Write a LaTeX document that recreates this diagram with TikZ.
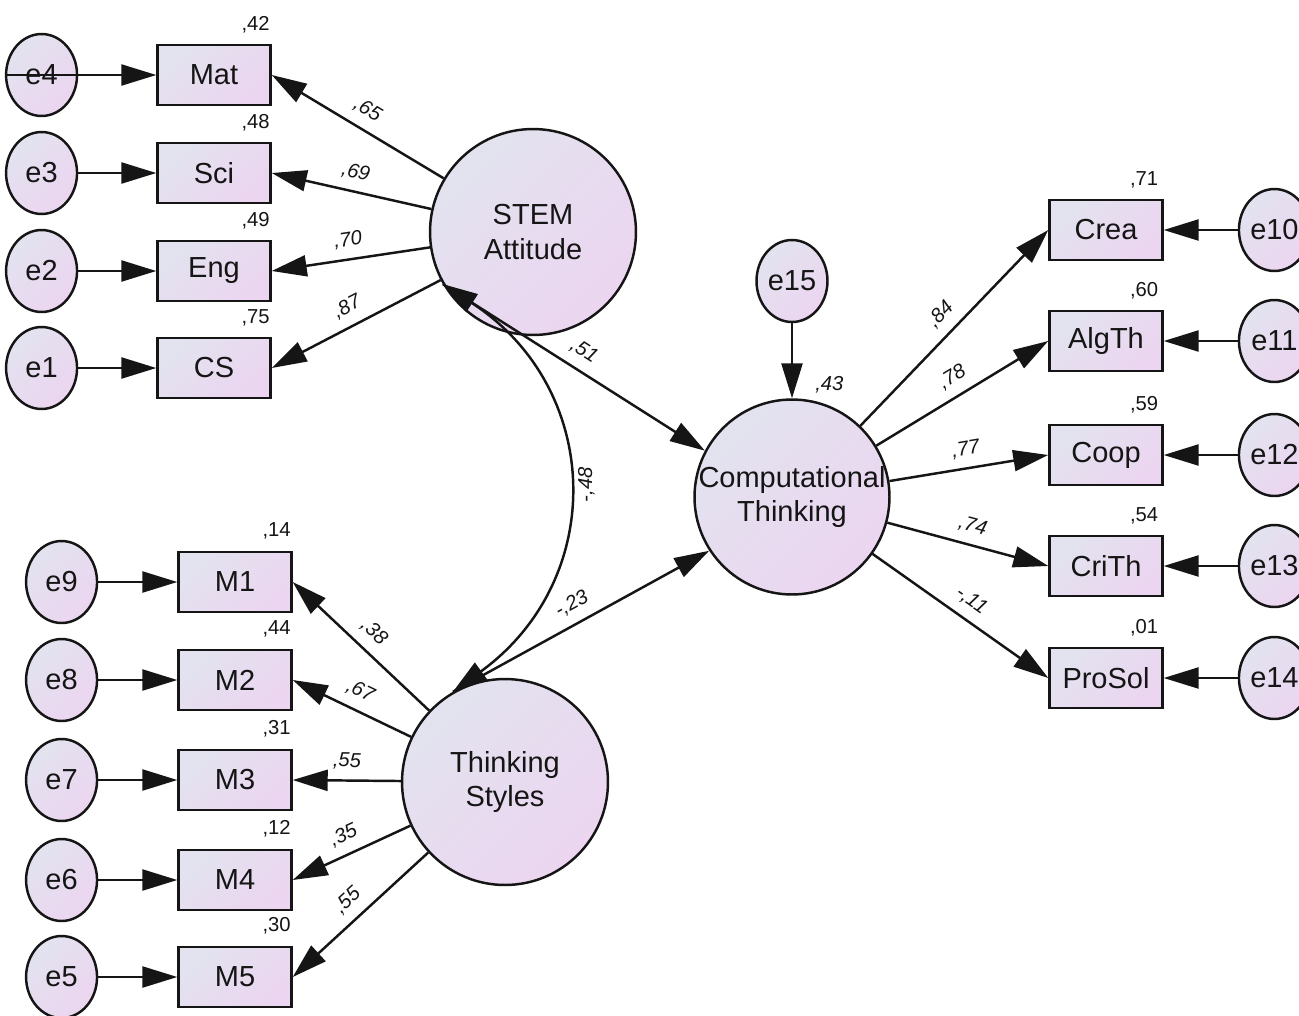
\documentclass[tikz,border=0pt]{standalone}
\usepackage{fontspec}
\setmainfont{Liberation Sans}
\usepackage{tikz}
\usetikzlibrary{arrows.meta,positioning,shapes.geometric}
\usepackage{xcolor}
\definecolor{fillgray}{HTML}{E2E3EF}
\definecolor{fillpink}{HTML}{ECD5F0}
\definecolor{inkgray}{HTML}{151515}

\begin{document}
\begin{tikzpicture}[
    x=0.02cm, y=-0.02cm,
    font=\fontsize{16.5}{19.5}\selectfont,
    lilac/.style={top color=fillgray, bottom color=fillpink, shading angle=45},
    obs/.style={draw=inkgray, line width=1.4pt, lilac, minimum width=2.26cm,
                minimum height=1.21cm, inner sep=0pt, text=inkgray},
    lat/.style={circle, draw=inkgray, line width=1.4pt, lilac, minimum size=#1,
                inner sep=-8pt, align=center, text=inkgray},
    err/.style={ellipse, draw=inkgray, line width=1.4pt, lilac, minimum width=1.42cm,
                minimum height=1.64cm, inner sep=0pt, text=inkgray},
    arr/.style={-{Triangle[length=0.7cm,width=0.42cm]}, line width=1.4pt, inkgray},
    cov/.style={{Triangle[length=0.7cm,width=0.42cm]}-{Triangle[length=0.7cm,width=0.42cm]},
                line width=1.4pt, inkgray},
    wlbl/.style={font=\fontsize{11.5}{13}\selectfont\itshape, sloped, above=4pt,
                 inner sep=1.5pt, text=inkgray},
    rlbl/.style={font=\fontsize{11.5}{13}\selectfont, anchor=base east, inner sep=0pt,
                 text=inkgray}
  ]
    \useasboundingbox[fill=white] (0,0) rectangle (1299,1015);

    % latent variables
    \node[lat=4.12cm] (stem) at (533,232) {STEM\\Attitude};
    \node[lat=3.9cm]  (ct)   at (792,497) {Computational\\Thinking};
    \node[lat=4.12cm] (ts)   at (505,782) {Thinking\\Styles};
    \node[err]        (e15)  at (792,281) {e15};

    % STEM indicators
    \node[obs] (mat) at (214,75)  {Mat};
    \node[obs] (sci) at (214,173) {Sci};
    \node[obs] (eng) at (214,271) {Eng};
    \node[obs] (cs)  at (214,368) {CS};
    \node[err, left=1.56cm of mat] (e4) {e4};
    \node[err, left=1.56cm of sci] (e3) {e3};
    \node[err, left=1.56cm of eng] (e2) {e2};
    \node[err, left=1.56cm of cs]  (e1) {e1};

    % thinking styles indicators
    \node[obs] (m1) at (235,582) {M1};
    \node[obs] (m2) at (235,680) {M2};
    \node[obs] (m3) at (235,780) {M3};
    \node[obs] (m4) at (235,880) {M4};
    \node[obs] (m5) at (235,977) {M5};
    \node[err, left=1.58cm of m1] (e9) {e9};
    \node[err, left=1.58cm of m2] (e8) {e8};
    \node[err, left=1.58cm of m3] (e7) {e7};
    \node[err, left=1.58cm of m4] (e6) {e6};
    \node[err, left=1.58cm of m5] (e5) {e5};

    % computational thinking indicators
    \node[obs] (crea)   at (1106,230) {Crea};
    \node[obs] (algth)  at (1106,341) {AlgTh};
    \node[obs] (coop)   at (1106,455) {Coop};
    \node[obs] (crith)  at (1106,566) {CriTh};
    \node[obs] (prosol) at (1106,678) {ProSol};
    \node[err, right=1.48cm of crea]   (e10) {e10};
    \node[err, right=1.48cm of algth]  (e11) {e11};
    \node[err, right=1.48cm of coop]   (e12) {e12};
    \node[err, right=1.48cm of crith]  (e13) {e13};
    \node[err, right=1.48cm of prosol] (e14) {e14};

    % squared multiple correlations
    \node[rlbl] (r2mat)    at ([xshift=-1pt,yshift=0.26cm]mat.north east)    {,42};
    \node[rlbl] (r2sci)    at ([xshift=-1pt,yshift=0.26cm]sci.north east)    {,48};
    \node[rlbl] (r2eng)    at ([xshift=-1pt,yshift=0.26cm]eng.north east)    {,49};
    \node[rlbl] (r2cs)     at ([xshift=-1pt,yshift=0.26cm]cs.north east)     {,75};
    \node[rlbl] (r2m1)     at ([xshift=-1pt,yshift=0.28cm]m1.north east)     {,14};
    \node[rlbl] (r2m2)     at ([xshift=-1pt,yshift=0.28cm]m2.north east)     {,44};
    \node[rlbl] (r2m3)     at ([xshift=-1pt,yshift=0.28cm]m3.north east)     {,31};
    \node[rlbl] (r2m4)     at ([xshift=-1pt,yshift=0.28cm]m4.north east)     {,12};
    \node[rlbl] (r2m5)     at ([xshift=-1pt,yshift=0.28cm]m5.north east)     {,30};
    \node[rlbl] (r2crea)   at ([xshift=-3pt,yshift=0.26cm]crea.north east)   {,71};
    \node[rlbl] (r2algth)  at ([xshift=-3pt,yshift=0.26cm]algth.north east)  {,60};
    \node[rlbl] (r2coop)   at ([xshift=-3pt,yshift=0.26cm]coop.north east)   {,59};
    \node[rlbl] (r2crith)  at ([xshift=-3pt,yshift=0.26cm]crith.north east)  {,54};
    \node[rlbl] (r2prosol) at ([xshift=-3pt,yshift=0.26cm]prosol.north east) {,01};
    \node[rlbl, anchor=base west, font=\fontsize{11.5}{13}\selectfont\itshape] (r2ct)
        at ([xshift=0.46cm,yshift=0.16cm]ct.north) {,43};

    % error terms
    \draw[arr] (e4.west) -- (mat);
    \draw[arr] (e3) -- (sci);
    \draw[arr] (e2) -- (eng);
    \draw[arr] (e1) -- (cs);
    \draw[arr] (e9) -- (m1);
    \draw[arr] (e8) -- (m2);
    \draw[arr] (e7) -- (m3);
    \draw[arr] (e6) -- (m4);
    \draw[arr] (e5) -- (m5);
    \draw[arr] (e10) -- (crea);
    \draw[arr] (e11) -- (algth);
    \draw[arr] (e12) -- (coop);
    \draw[arr] (e13) -- (crith);
    \draw[arr] (e14) -- (prosol);
    \draw[arr] (e15) -- (ct);

    % loadings
    \draw[arr] (stem) -- node[wlbl]{,65} (mat.east);
    \draw[arr] (stem) -- node[wlbl]{,69} (sci.east);
    \draw[arr] (stem) -- node[wlbl]{,70} (eng.east);
    \draw[arr] (stem) -- node[wlbl]{,87} (cs.east);
    \draw[arr] (ts) -- node[wlbl]{,38} (m1.east);
    \draw[arr] (ts) -- node[wlbl]{,67} (m2.east);
    \draw[arr] (ts) -- node[wlbl]{,55} (m3.east);
    \draw[arr] (ts) -- node[wlbl]{,35} (m4.east);
    \draw[arr] (ts) -- node[wlbl]{,55} (m5.east);
    \draw[arr] (ct) -- node[wlbl]{,84} (crea.west);
    \draw[arr] (ct) -- node[wlbl]{,78} (algth.west);
    \draw[arr] (ct) -- node[wlbl]{,77} (coop.west);
    \draw[arr] (ct) -- node[wlbl]{,74} (crith.west);
    \draw[arr] (ct) -- node[wlbl]{-,11} (prosol.west);

    % structural paths
    \draw[arr] (stem.210) -- node[wlbl]{,51} (ct.152);
    \draw[arr] (ts.120) -- node[wlbl]{-,23} (ct.213);
    \draw[cov] (stem.210) to[out=-33, in=36, looseness=1.2]
        node[pos=0.5, anchor=north, rotate=90, inner sep=6pt,
             font=\fontsize{11.5}{13}\selectfont\itshape, text=inkgray]{-,48} (ts.120);
  \end{tikzpicture}
\end{document}
